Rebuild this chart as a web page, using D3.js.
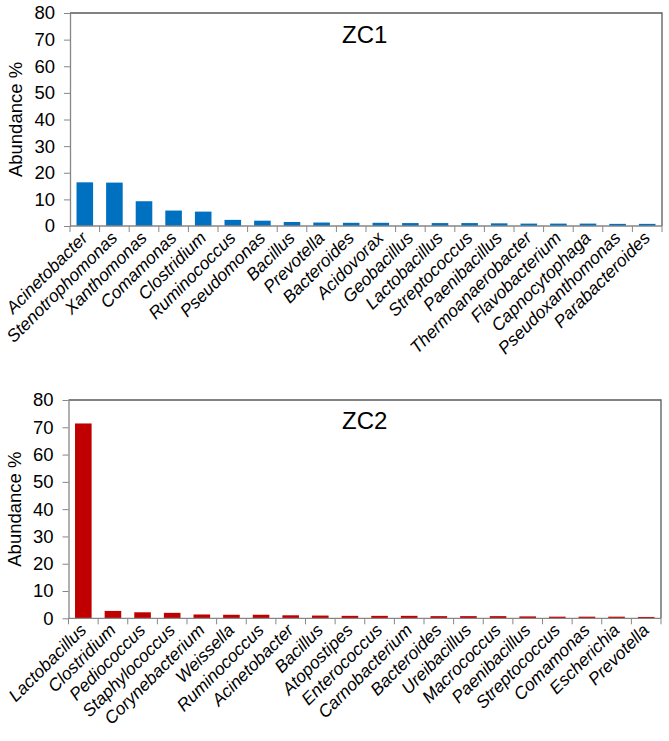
<!DOCTYPE html>
<html><head><meta charset="utf-8">
<script src="https://cdn.jsdelivr.net/npm/d3@7"></script>
<style>body{margin:0;background:#fff}svg{display:block}</style>
</head><body>
<script>
const zc1Genera = ["Acinetobacter","Stenotrophomonas","Xanthomonas","Comamonas","Clostridium","Ruminococcus","Pseudomonas","Bacillus","Prevotella","Bacteroides","Acidovorax","Geobacillus","Lactobacillus","Streptococcus","Paenibacillus","Thermoanaerobacter","Flavobacterium","Capnocytophaga","Pseudoxanthomonas","Parabacteroides"];
const zc1Values = [16.4,16.3,9.3,5.8,5.4,2.3,2.0,1.5,1.3,1.2,1.2,1.1,1.1,1.1,1.0,0.9,0.9,0.9,0.8,0.8];
const zc2Genera = ["Lactobacillus","Clostridium","Pediococcus","Staphylococcus","Corynebacterium","Weissella","Ruminococcus","Acinetobacter","Bacillus","Atopostipes","Enterococcus","Carnobacterium","Bacteroides","Ureibacillus","Macrococcus","Paenibacillus","Streptococcus","Comamonas","Escherichia","Prevotella"];
const zc2Values = [71.4,2.7,2.2,2.0,1.4,1.3,1.3,1.1,1.0,0.9,0.9,0.9,0.8,0.8,0.8,0.7,0.6,0.6,0.6,0.5];
const yTicks = [0,10,20,30,40,50,60,70,80];
const yLabel = "Abundance %";

const FONT = "'Liberation Sans', Arial, sans-serif";
const svg = d3.select("body").append("svg").attr("width",669).attr("height",741)
  .style("font-family",FONT);

function panel(genera, values, title, color, box){
  const g = svg.append("g");
  const x = d3.scaleBand().domain(genera).range([box.left, box.right]).paddingInner(0.44).paddingOuter(0.22);
  const y = d3.scaleLinear().domain([0,80]).range([box.bottom, box.top]);
  g.selectAll("rect.bar").data(values).join("rect")
    .attr("x",(d,i)=>x(genera[i])).attr("width",x.bandwidth())
    .attr("y",d=>y(d)).attr("height",d=>y(0)-y(d)).attr("fill",color);
  g.append("path").attr("d",`M${box.left},${box.top}H${box.right}V${box.bottom}`)
    .attr("fill","none").attr("stroke","#595959").attr("stroke-width",1.3);
  const ya = g.append("g").attr("transform",`translate(${box.left},0)`)
    .call(d3.axisLeft(y).tickValues(yTicks).tickSize(6).tickSizeOuter(0).tickPadding(9));
  ya.attr("font-family",FONT).attr("font-size",18.5);
  ya.select(".domain").attr("stroke","#868686").attr("stroke-width",1.3);
  ya.selectAll(".tick line").attr("stroke","#868686");
  ya.selectAll("text").attr("fill","#000");
  const xa = g.append("g").attr("transform",`translate(0,${box.bottom})`);
  xa.append("line").attr("x1",box.left).attr("x2",box.right).attr("stroke","#868686").attr("stroke-width",1.3);
  const bounds = d3.range(genera.length+1).map(i=>box.left + i*x.step());
  xa.selectAll("line.t").data(bounds).join("line").attr("class","t")
    .attr("x1",d=>d).attr("x2",d=>d).attr("y1",0).attr("y2",6).attr("stroke","#868686");
  xa.selectAll("text").data(genera).join("text")
    .attr("transform",d=>`translate(${x(d)+x.bandwidth()/2+4},13) rotate(-45)`)
    .attr("text-anchor","end").attr("font-size",17.5).attr("font-style","italic")
    .attr("fill","#000").text(d=>d);
  g.append("text").attr("transform",`translate(${box.left-48},${(box.top+box.bottom)/2}) rotate(-90)`)
    .attr("text-anchor","middle").attr("font-size",18.5).attr("fill","#000").text(yLabel);
  g.append("text").attr("x",342).attr("y",box.top+box.titleDy).attr("font-size",24).attr("fill","#000").text(title);
}

panel(zc1Genera, zc1Values, "ZC1", "#0070C0", {left:70, right:662, top:13, bottom:226, titleDy:30});
panel(zc2Genera, zc2Values, "ZC2", "#C00000", {left:68.5, right:661, top:400, bottom:618.3, titleDy:28.5});
</script>
</body></html>
